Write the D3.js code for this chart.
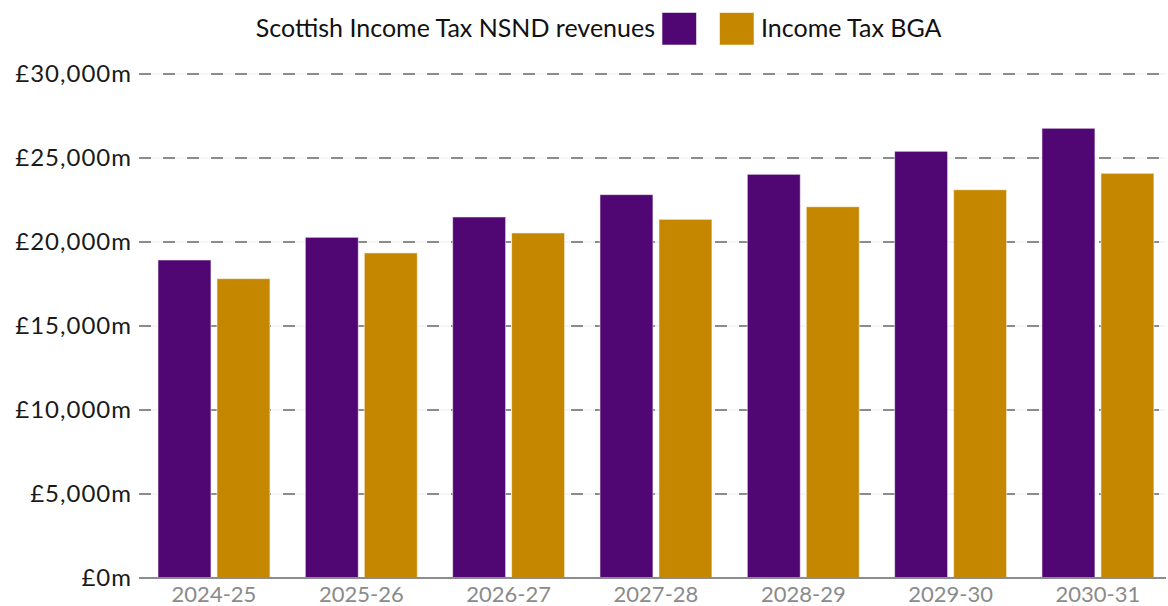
<!DOCTYPE html>
<html>
<head>
<meta charset="utf-8">
<script src="https://cdn.jsdelivr.net/npm/d3@7"></script>
<style>
  html, body { margin: 0; padding: 0; background: #fff; }
  svg { display: block; }
  text { font-family: Lato, "Open Sans", sans-serif; }
</style>
</head>
<body>
<svg id="chart" width="1168" height="606"></svg>
<script>
// Financial years shown along the x axis
const years = ["2024-25", "2025-26", "2026-27", "2027-28", "2028-29", "2029-30", "2030-31"];
// Series names (legend order)
const seriesNames = ["Scottish Income Tax NSND revenues", "Income Tax BGA"];
// £ million per year
const nsndRevenues = [18930, 20280, 21490, 22820, 24030, 25400, 26770];
const bgaValues    = [17820, 19350, 20540, 21350, 22100, 23110, 24090];
// Y axis ticks
const yTicks = [0, 5000, 10000, 15000, 20000, 25000, 30000];
const seriesColors = ["#500773", "#c68700"];

const svg = d3.select("#chart");
const plotLeft = 139, plotRight = 1166;

const y = d3.scaleLinear().domain([0, 30000]).range([578, 74]);

const x0 = d3.scaleBand()
  .domain(years)
  .range([140.3, 1171.6])
  .paddingInner(0.24)
  .paddingOuter(0.12);

const x1 = d3.scaleBand()
  .domain(seriesNames)
  .range([0, x0.bandwidth()])
  .paddingInner(0.1017)
  .paddingOuter(0);

const fmt = v => "£" + d3.format(",")(v) + "m";

// Horizontal gridlines: faint solid line under a dashed grey line
const grid = svg.append("g");
yTicks.filter(t => t > 0).forEach(t => {
  grid.append("line")
    .attr("x1", plotLeft).attr("x2", plotRight)
    .attr("y1", y(t)).attr("y2", y(t))
    .attr("stroke", "#ebebeb").attr("stroke-width", 1.2);
  grid.append("line")
    .attr("x1", plotLeft).attr("x2", plotRight)
    .attr("y1", y(t)).attr("y2", y(t))
    .attr("stroke", "#8c8c8c").attr("stroke-width", 2.2)
    .attr("stroke-dasharray", "12 12");
});

// Y axis labels
const yAxis = d3.axisLeft(y).tickValues(yTicks).tickFormat(fmt).tickSize(0).tickPadding(0);
const yg = svg.append("g").attr("transform", `translate(132,0)`).call(yAxis);
yg.select(".domain").remove();
yg.selectAll("text")
  .attr("fill", "#1a1a1a")
  .style("font-size", "24px")
  .style("letter-spacing", "1px")
  .style("font-family", "Lato, sans-serif");

// Bars
const data = years.map((yr, i) => ({ year: yr, values: [nsndRevenues[i], bgaValues[i]] }));
const groups = svg.append("g").selectAll("g")
  .data(data).join("g")
  .attr("transform", d => `translate(${x0(d.year)},0)`);

groups.selectAll("rect")
  .data(d => d.values.map((v, j) => ({ key: seriesNames[j], value: v, j })))
  .join("rect")
  .attr("x", d => x1(d.key))
  .attr("width", x1.bandwidth())
  .attr("y", d => y(d.value))
  .attr("height", d => y(0) - y(d.value))
  .attr("fill", d => seriesColors[d.j])
  .attr("stroke", "rgba(255,255,255,0.55)")
  .attr("stroke-width", 1);

// X axis baseline and labels
const xAxis = d3.axisBottom(x0).tickSize(0).tickPadding(0);
const xg = svg.append("g").attr("transform", `translate(0,${y(0)})`).call(xAxis);
xg.select(".domain").remove();
xg.selectAll("text")
  .attr("fill", "#8a8a8a")
  .attr("dy", "0")
  .attr("y", 24)
  .style("font-size", "22px")
  .style("font-family", "Lato, sans-serif");
svg.append("line")
  .attr("x1", plotLeft).attr("x2", plotRight)
  .attr("y1", y(0)).attr("y2", y(0))
  .attr("stroke", "#8c8c8c").attr("stroke-width", 2);

// Legend
const legend = svg.append("g").style("font-size", "25px").attr("fill", "#111");
legend.append("text").attr("x", 655).attr("y", 37).attr("text-anchor", "end").text(seriesNames[0]);
legend.append("rect").attr("x", 662).attr("y", 12.5).attr("width", 34.5).attr("height", 32.5)
  .attr("fill", seriesColors[0]).attr("stroke", "rgba(255,255,255,0.55)");
legend.append("rect").attr("x", 719.5).attr("y", 12.5).attr("width", 34.5).attr("height", 32.5)
  .attr("fill", seriesColors[1]).attr("stroke", "rgba(255,255,255,0.55)");
legend.append("text").attr("x", 761).attr("y", 37).text(seriesNames[1]);
</script>
</body>
</html>
